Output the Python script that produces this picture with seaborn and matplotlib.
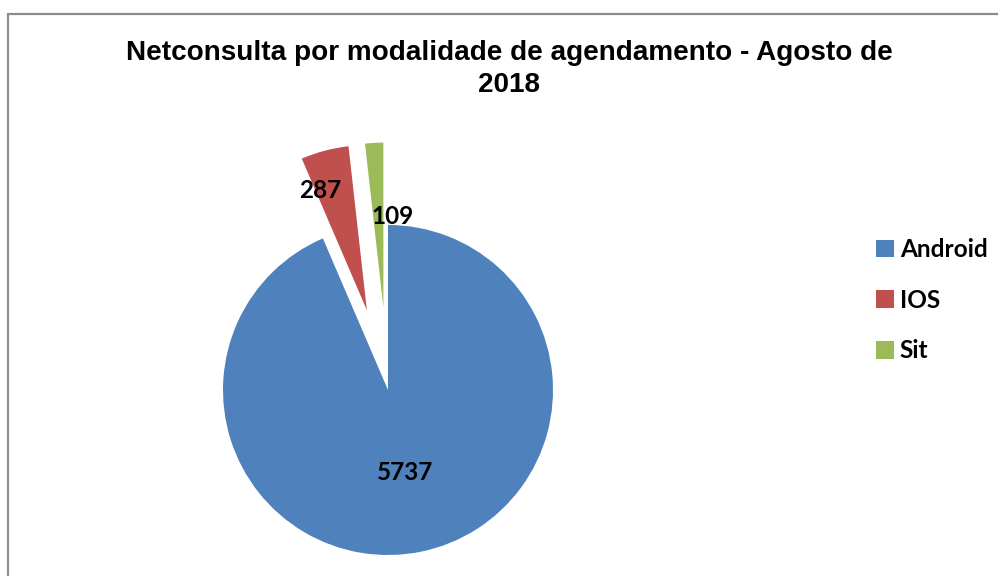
import matplotlib
matplotlib.use("Agg")
import matplotlib.pyplot as plt
from matplotlib.lines import Line2D
from matplotlib.patches import Patch
import seaborn as sns

categories = ["Android", "IOS", "Sit"]
values = [5737, 287, 109]
colors = ["#4F81BD", "#C0504D", "#9BBB59"]
explode_frac = [0.0, 0.5, 0.5]
title = "Netconsulta por modalidade de agendamento - Agosto de\n2018"

sns.set_theme(style="white")
plt.rcParams["font.family"] = ["Liberation Sans", "DejaVu Sans"]
plt.rcParams["text.color"] = "black"

W, H = 998, 576
fig = plt.figure(figsize=(W / 100, H / 100), dpi=100)
fig.patch.set_facecolor("white")
ax = fig.add_axes([0, 0, 1, 1])

cx, cy, r = 388, H - 390, 165
wedges, _ = ax.pie(values, colors=colors, explode=[e * r for e in explode_frac],
                   startangle=90, counterclock=False, center=(cx, cy), radius=r,
                   wedgeprops=dict(linewidth=0))
ax.set_xlim(0, W)
ax.set_ylim(0, H)
ax.set_aspect("equal")
ax.axis("off")

lbl_font = dict(family=["Lato", "DejaVu Sans"], fontweight="bold", fontsize=17.5, color="black")
label_pos = [(405, 472), (320, 190), (393, 216)]
for v, (x, y) in zip(values, label_pos):
    ax.text(x, H - y, str(v), ha="center", va="center", **lbl_font)

fig.text(509 / W, 1 - 69 / H, title, ha="center", va="center", fontsize=20.1,
         fontweight="bold", color="black", family=["Liberation Sans", "DejaVu Sans"],
         linespacing=1.3)

handles = [Patch(facecolor=c, edgecolor="none") for c in colors]
leg = fig.legend(handles, categories, loc="upper left",
                 bbox_to_anchor=(876 / W, 1 - 238 / H), frameon=False,
                 handlelength=0.75, handleheight=0.75, handletextpad=0.22,
                 labelspacing=1.13, borderpad=0, borderaxespad=0,
                 prop=dict(family=["Lato", "DejaVu Sans"], weight="bold", size=17.6))
for t in leg.get_texts():
    t.set_color("black")

# outer chart border (top and left visible)
fig.add_artist(Line2D([8 / W, 1.0], [1 - 14 / H, 1 - 14 / H], transform=fig.transFigure,
                      color="#8C8C8C", linewidth=1.6))
fig.add_artist(Line2D([8 / W, 8 / W], [0, 1 - 14 / H], transform=fig.transFigure,
                      color="#8C8C8C", linewidth=1.6))

fig.savefig("out.png", dpi=100, facecolor="white")
